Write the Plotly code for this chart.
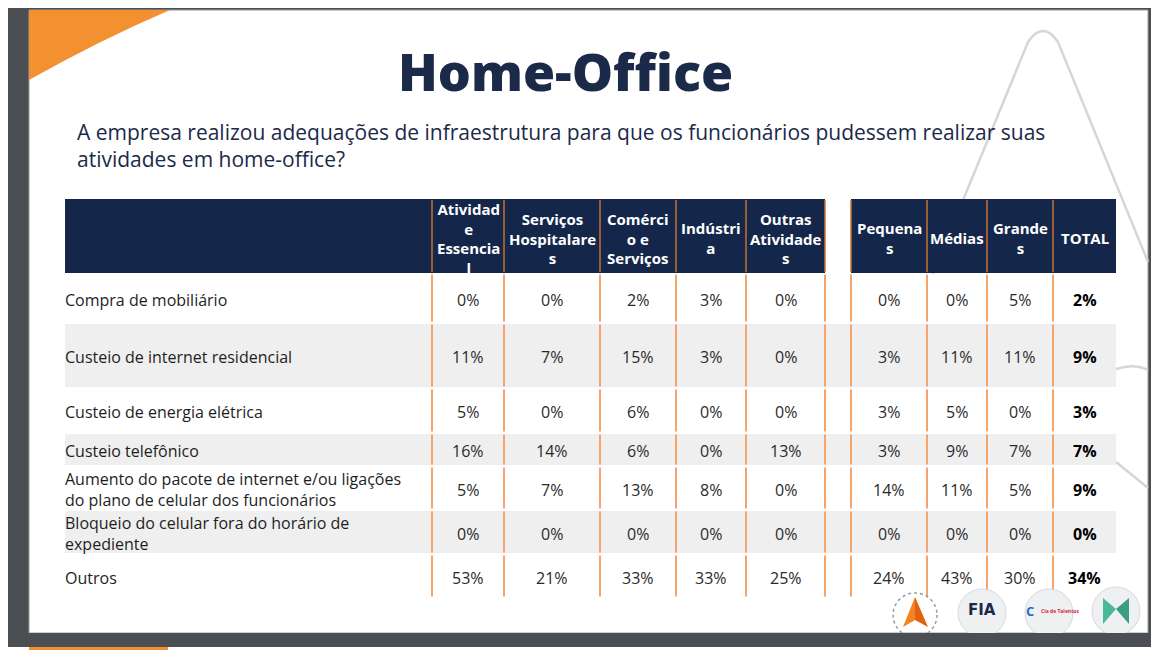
import plotly.graph_objects as go

# ---- data ----
categories = [
    "Compra de mobiliário",
    "Custeio de internet residencial",
    "Custeio de energia elétrica",
    "Custeio telefônico",
    "Aumento do pacote de internet e/ou ligações<br>do plano de celular dos funcionários",
    "Bloqueio do celular fora do horário de<br>expediente",
    "Outros",
]
header_labels = [
    "Atividad<br>e<br>Essencia<br>l",
    "Serviços<br>Hospitalare<br>s",
    "Comérci<br>o e<br>Serviços",
    "Indústri<br>a",
    "Outras<br>Atividade<br>s",
    "Pequena<br>s",
    "Médias",
    "Grande<br>s",
    "TOTAL",
]
atividade_essencial = [0, 11, 5, 16, 5, 0, 53]
servicos_hospitalares = [0, 7, 0, 14, 7, 0, 21]
comercio_servicos = [2, 15, 6, 6, 13, 0, 33]
industria = [3, 3, 0, 0, 8, 0, 33]
outras_atividades = [0, 0, 0, 13, 0, 0, 25]
pequenas = [0, 3, 3, 3, 14, 0, 24]
medias = [0, 11, 5, 9, 11, 0, 43]
grandes = [5, 11, 0, 7, 5, 0, 30]
total = [2, 9, 3, 7, 9, 0, 34]

series = [atividade_essencial, servicos_hospitalares, comercio_servicos, industria,
          outras_atividades, pequenas, medias, grandes, total]

# ---- layout (pixel positions, page has an 8px body margin) ----
W, H = 1159, 650
OFF = 8
NAVY = "#14274b"
ORANGE = "#f39131"
LINE_OR = "#f5a46a"
GRAY_ROW = "#efefef"
FONT = "Open Sans"

col_edges = [(432, 504), (504, 600), (600, 676), (676, 746), (746, 825),
             (851, 927), (927, 987), (987, 1053), (1053, 1116)]
row_edges = [273, 323, 388, 433, 466, 510, 554, 598]
head_top, head_bot = 199, 273
label_x = 65

shapes = []
ann = []

# page frame
shapes.append(dict(type="rect", x0=8, x1=W + OFF, y0=7, y1=647, fillcolor="#4b4f53", line_width=0))
shapes.append(dict(type="rect", x0=29, x1=1148, y0=10, y1=633, fillcolor="white",
                   line=dict(color="#9a9a9a", width=1)))
shapes.append(dict(type="path", path="M 29,10 L 170,10 Q 100,40 29,80 Z",
                   fillcolor=ORANGE, line_width=0))

# decorative outline lines
deco = dict(color="#d6d6d6", width=2.5)
shapes.append(dict(type="path", path="M 922,300 L 1028,42 Q 1043,20 1058,42 L 1148,262",
                   line=deco))
shapes.append(dict(type="path", path="M 1116,369 Q 1135,363 1148,370", line=deco))
shapes.append(dict(type="line", x0=1116, y0=462, x1=1148, y1=488, line=deco))

# header bands
shapes.append(dict(type="rect", x0=label_x, x1=825, y0=head_top, y1=head_bot,
                   fillcolor=NAVY, line_width=0))
shapes.append(dict(type="rect", x0=851, x1=1116, y0=head_top, y1=head_bot,
                   fillcolor=NAVY, line_width=0))

# body rows
for i in range(len(categories)):
    y0, y1 = row_edges[i], row_edges[i + 1]
    fill = GRAY_ROW if i % 2 == 1 else "white"
    shapes.append(dict(type="rect", x0=label_x, x1=1116, y0=y0 + 1, y1=y1 - 1,
                       fillcolor=fill, line_width=0))

# vertical separators
sep_x = [x0 for x0, _ in col_edges] + [825]
for x in sep_x:
    shapes.append(dict(type="line", x0=x, x1=x, y0=head_top + 1, y1=head_bot - 1,
                       line=dict(color="#c8702e", width=1.5)))
    for i in range(len(categories)):
        shapes.append(dict(type="line", x0=x, x1=x, y0=row_edges[i] + 1.5,
                           y1=row_edges[i + 1] - 1.5, line=dict(color=LINE_OR, width=2)))

# header text
for (x0, x1), lab in zip(col_edges, header_labels):
    ann.append(dict(x=(x0 + x1) / 2, y=(head_top + head_bot) / 2 + 2, text=lab,
                    showarrow=False, xanchor="center", yanchor="middle",
                    font=dict(family=FONT, size=15, color="white", weight="bold")))

# body text
for i, cat in enumerate(categories):
    yc = (row_edges[i] + row_edges[i + 1]) / 2 + 1.5
    ann.append(dict(x=label_x - 2, y=yc, text=cat, showarrow=False, align="left",
                    xanchor="left", yanchor="middle",
                    font=dict(family=FONT, size=16, color="#1e1e1e")))
    for j, (x0, x1) in enumerate(col_edges):
        bold = j == len(col_edges) - 1
        ann.append(dict(x=(x0 + x1) / 2, y=yc, text=f"{series[j][i]}%", showarrow=False,
                        xanchor="center", yanchor="middle",
                        font=dict(family=FONT, size=16, color="#000" if bold else "#2a2a2a",
                                  weight="bold" if bold else "normal")))

# title / question
ann.append(dict(x=565, y=70, text="Home-Office", showarrow=False, xanchor="center",
                yanchor="middle", font=dict(family=FONT, size=52, color="#1b2a49", weight=800)))
ann.append(dict(x=75, y=145, showarrow=False, xanchor="left", yanchor="middle", align="left",
                text="A empresa realizou adequações de infraestrutura para que os funcionários pudessem realizar suas<br>atividades em home-office?",
                font=dict(family=FONT, size=21, color="#1b2a49")))

# logos
shapes.append(dict(type="circle", x0=893, x1=937, y0=593, y1=637,
                   line=dict(color="#9a9a9a", width=1.5, dash="dot")))
shapes.append(dict(type="path", path="M 915,597 L 903,627 L 915,620 Z", fillcolor="#f58220", line_width=0))
shapes.append(dict(type="path", path="M 915,597 L 928,627 L 915,620 Z", fillcolor="#e0620f", line_width=0))
for cx, cy in [(982, 613), (1049, 613), (1116, 611)]:
    shapes.append(dict(type="circle", x0=cx - 24, x1=cx + 24, y0=cy - 24, y1=cy + 24,
                       fillcolor="#eef0f2", line=dict(color="#d7d9dc", width=1)))
ann.append(dict(x=982, y=610, text="FIA", showarrow=False,
                font=dict(family="DejaVu Sans", size=15, color="#1b2a49", weight="bold")))
ann.append(dict(x=1036, y=611, text="C", showarrow=False, xanchor="right",
                font=dict(family=FONT, size=13, color="#1f6fc1", weight="bold")))
ann.append(dict(x=1039, y=611, text="Cia de Talentos", showarrow=False, xanchor="left",
                font=dict(family=FONT, size=5, color="#d0283a", weight="bold")))
shapes.append(dict(type="path", path="M 1103,598 L 1116,609 L 1103,624 Z", fillcolor="#4cb89a", line_width=0))
shapes.append(dict(type="path", path="M 1129,598 L 1116,609 L 1129,624 Z", fillcolor="#3a9e84", line_width=0))

# bottom frame strip (clips logos) and next slide edge
shapes.append(dict(type="rect", x0=8, x1=W + OFF, y0=633, y1=647, fillcolor="#4b4f53", line_width=0))
shapes.append(dict(type="rect", x0=29, x1=1148, y0=647, y1=H + OFF, fillcolor="white", line_width=0))
shapes.append(dict(type="rect", x0=29, x1=168, y0=647, y1=H + OFF, fillcolor=ORANGE, line_width=0))

fig = go.Figure()
fig.update_layout(
    width=W, height=H, margin=dict(l=0, r=0, t=0, b=0),
    paper_bgcolor="white", plot_bgcolor="white",
    xaxis=dict(range=[OFF, W + OFF], visible=False, fixedrange=True),
    yaxis=dict(range=[H + OFF, OFF], visible=False, fixedrange=True),
    shapes=shapes, annotations=ann, showlegend=False,
)
fig.write_html("out.html")
